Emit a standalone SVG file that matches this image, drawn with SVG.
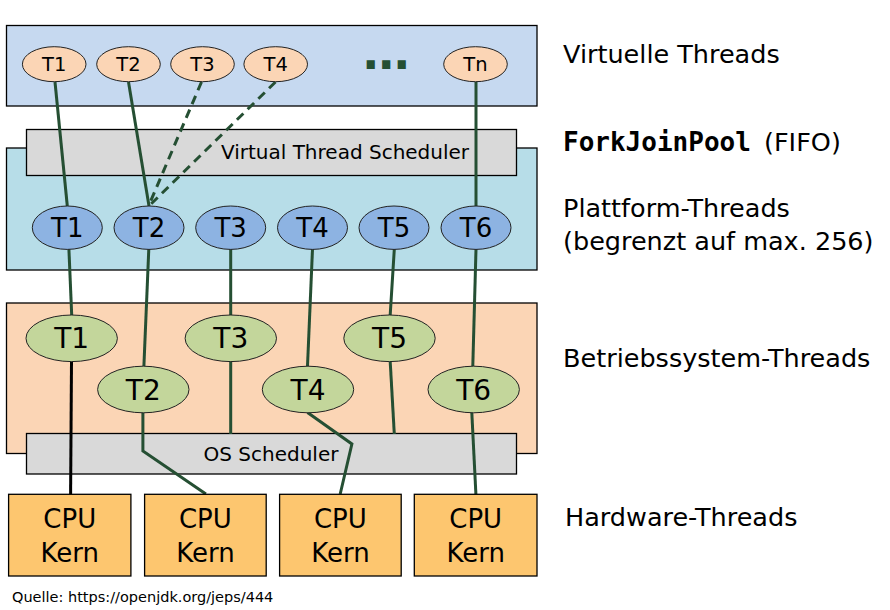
<svg xmlns="http://www.w3.org/2000/svg" width="890" height="610" viewBox="0 0 890 610">
<defs>
<style>
text{font-family:"DejaVu Sans","Liberation Sans",sans-serif;fill:#000}
.box{stroke:#000;stroke-width:1.3}
.ell{stroke:#222;stroke-width:1}
.vt{fill:#fbd5b5}
.pt{fill:#8db3e2}
.ot{fill:#c3d69b}
.cpu{fill:#fdc66f}
.grey{fill:#d9d9d9}
.c{text-anchor:middle}
.con{fill:none;stroke:#254f33;stroke-width:3}
.dash{stroke-dasharray:9 6}
.lbl{font-size:25.5px}
</style>
</defs>
<rect width="890" height="610" fill="#fff"/>

<g id="layer-virtual"><rect class="box" x="6.5" y="25.5" width="530.5" height="80.5" fill="#c6d9f0"/></g>
<g id="layer-platform"><rect class="box" x="6.5" y="148" width="530.5" height="122" fill="#b7dde8"/></g>
<g id="vt-scheduler"><rect class="box grey" x="26.5" y="129.5" width="490" height="46"/>
<text class="c" x="345" y="158.5" font-size="20">Virtual Thread Scheduler</text></g>
<g id="layer-os"><rect class="box" x="6.5" y="303" width="530.5" height="150.5" fill="#fbd5b5"/></g>
<g id="os-scheduler"><rect class="box grey" x="26.5" y="433.5" width="490" height="40.5"/>
<text class="c" x="271" y="461" font-size="20">OS Scheduler</text></g>

<g id="connectors">
<line class="con" x1="55" y1="82" x2="67.3" y2="206"/>
<line class="con" x1="128.5" y1="82" x2="149" y2="206"/>
<line class="con dash" x1="201.5" y1="82" x2="149" y2="205"/>
<line class="con dash" x1="275.5" y1="82" x2="150" y2="205"/>
<line class="con" x1="476" y1="82" x2="476" y2="206"/>
<line class="con" x1="68.9" y1="249" x2="71.7" y2="315"/>
<line class="con" x1="148.8" y1="249" x2="143.9" y2="366"/>
<line class="con" x1="230.7" y1="249" x2="230.7" y2="315"/>
<line class="con" x1="312.5" y1="249" x2="307.5" y2="366"/>
<line class="con" x1="394.3" y1="249" x2="390.2" y2="315"/>
<line class="con" x1="476" y1="249" x2="472.8" y2="366"/>
<line class="con" style="stroke:#000" x1="71.5" y1="361.5" x2="70.6" y2="494"/>
<polyline class="con" points="142.9,412.5 142.9,451 205.9,494"/>
<line class="con" x1="230.7" y1="361.5" x2="230.7" y2="434"/>
<polyline class="con" points="307.5,412.5 351.9,444 340.2,494"/>
<line class="con" x1="390.2" y1="361.5" x2="394.3" y2="434"/>
<line class="con" x1="471.8" y1="412.5" x2="475.9" y2="494"/>
</g>

<g id="v1"><ellipse class="ell vt" cx="54.2" cy="64.2" rx="31.8" ry="17.5"/><text class="c" x="54.2" y="71" font-size="19.5">T1</text></g>
<g id="v2"><ellipse class="ell vt" cx="128.5" cy="64.2" rx="31.8" ry="17.5"/><text class="c" x="128.5" y="71" font-size="19.5">T2</text></g>
<g id="v3"><ellipse class="ell vt" cx="202.5" cy="64.2" rx="31.8" ry="17.5"/><text class="c" x="202.5" y="71" font-size="19.5">T3</text></g>
<g id="v4"><ellipse class="ell vt" cx="275.7" cy="64.2" rx="31.8" ry="17.5"/><text class="c" x="275.7" y="71" font-size="19.5">T4</text></g>
<g id="v-dots"><text x="362" y="69" font-size="46" font-weight="bold" letter-spacing="-2" style="fill:#254f33">...</text></g>
<g id="vn"><ellipse class="ell vt" cx="475.5" cy="64.2" rx="31.8" ry="17.5"/><text class="c" x="475.5" y="71" font-size="19.5">Tn</text></g>

<g id="p1"><ellipse class="ell pt" cx="67.3" cy="227.7" rx="35" ry="21.7"/><text class="c" x="67.3" y="237" font-size="26">T1</text></g>
<g id="p2"><ellipse class="ell pt" cx="149" cy="227.7" rx="35" ry="21.7"/><text class="c" x="149" y="237" font-size="26">T2</text></g>
<g id="p3"><ellipse class="ell pt" cx="230.7" cy="227.7" rx="35" ry="21.7"/><text class="c" x="230.7" y="237" font-size="26">T3</text></g>
<g id="p4"><ellipse class="ell pt" cx="312.5" cy="227.7" rx="35" ry="21.7"/><text class="c" x="312.5" y="237" font-size="26">T4</text></g>
<g id="p5"><ellipse class="ell pt" cx="394" cy="227.7" rx="35" ry="21.7"/><text class="c" x="394" y="237" font-size="26">T5</text></g>
<g id="p6"><ellipse class="ell pt" cx="476" cy="227.7" rx="35" ry="21.7"/><text class="c" x="476" y="237" font-size="26">T6</text></g>

<g id="o1"><ellipse class="ell ot" cx="71.7" cy="338.3" rx="45.7" ry="23.3"/><text class="c" x="71.7" y="348.3" font-size="28">T1</text></g>
<g id="o2"><ellipse class="ell ot" cx="143.3" cy="389.5" rx="45.7" ry="23.3"/><text class="c" x="143.3" y="399.5" font-size="28">T2</text></g>
<g id="o3"><ellipse class="ell ot" cx="230.8" cy="338.3" rx="45.7" ry="23.3"/><text class="c" x="230.8" y="348.3" font-size="28">T3</text></g>
<g id="o4"><ellipse class="ell ot" cx="308" cy="389.5" rx="45.7" ry="23.3"/><text class="c" x="308" y="399.5" font-size="28">T4</text></g>
<g id="o5"><ellipse class="ell ot" cx="389.5" cy="338.3" rx="45.7" ry="23.3"/><text class="c" x="389.5" y="348.3" font-size="28">T5</text></g>
<g id="o6"><ellipse class="ell ot" cx="473.7" cy="389.5" rx="45.7" ry="23.3"/><text class="c" x="473.7" y="399.5" font-size="28">T6</text></g>

<g id="cpu1"><rect class="box cpu" x="8.6" y="494.3" width="122.3" height="81.7"/><text class="c" x="69.8" y="528" font-size="26">CPU</text><text class="c" x="69.8" y="562" font-size="26">Kern</text></g>
<g id="cpu2"><rect class="box cpu" x="144.6" y="494.3" width="121.6" height="81.7"/><text class="c" x="205.4" y="528" font-size="26">CPU</text><text class="c" x="205.4" y="562" font-size="26">Kern</text></g>
<g id="cpu3"><rect class="box cpu" x="279.6" y="494.3" width="121.6" height="81.7"/><text class="c" x="340.4" y="528" font-size="26">CPU</text><text class="c" x="340.4" y="562" font-size="26">Kern</text></g>
<g id="cpu4"><rect class="box cpu" x="414.3" y="494.3" width="122.7" height="81.7"/><text class="c" x="475.7" y="528" font-size="26">CPU</text><text class="c" x="475.7" y="562" font-size="26">Kern</text></g>

<g id="labels">
<text class="lbl" x="563" y="63">Virtuelle Threads</text>
<text class="lbl" x="563" y="151"><tspan font-family="'DejaVu Sans Mono','Liberation Mono',monospace" font-weight="bold" font-size="26">ForkJoinPool</tspan></text>
<text class="lbl" x="764" y="151">(FIFO)</text>
<text class="lbl" x="563" y="217">Plattform-Threads</text>
<text class="lbl" x="563" y="250">(begrenzt auf max. 256)</text>
<text class="lbl" x="563" y="367">Betriebssystem-Threads</text>
<text class="lbl" x="565" y="526">Hardware-Threads</text>
<text x="12" y="602" font-size="14.5">Quelle: https://openjdk.org/jeps/444</text>
</g>
</svg>
